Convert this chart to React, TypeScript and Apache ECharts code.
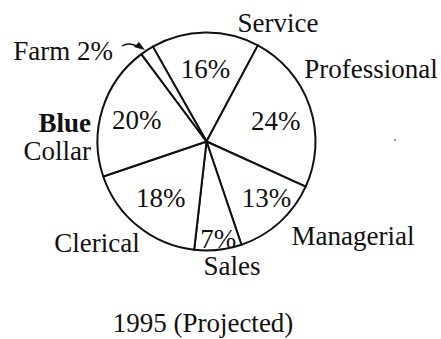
import React, { useEffect, useRef } from "react";
import * as echarts from "echarts";

const categories = ["Service", "Professional", "Managerial", "Sales", "Clerical", "Blue Collar", "Farm"];
const shares = [16, 24, 13, 7, 18, 20, 2];
const titleText = "1995 (Projected)";

const FONT = "Liberation Serif";
const FS = 27;

// placement of outer name labels (pixels)
const namePlacement: Record<string, { x: number; y: number; align: string; text: string; weight?: string }[]> = {
  Service: [{ x: 278, y: 23, align: "center", text: "Service" }],
  Professional: [{ x: 371, y: 69, align: "center", text: "Professional" }],
  Managerial: [{ x: 353, y: 236, align: "center", text: "Managerial" }],
  Sales: [{ x: 232, y: 266, align: "center", text: "Sales" }],
  Clerical: [{ x: 97, y: 243, align: "center", text: "Clerical" }],
  "Blue Collar": [
    { x: 91, y: 123, align: "right", text: "Blue", weight: "bold" },
    { x: 91, y: 151, align: "right", text: "Collar" },
  ],
  Farm: [{ x: 63, y: 51, align: "center", text: "Farm 2%" }],
};

// small label nudges for the percent labels
const pctOffset: Record<string, number[]> = {
  Professional: [0, 3],
  Managerial: [11, 2],
  Sales: [4, 25],
};

export default function App() {
  const ref = useRef<HTMLDivElement>(null);
  useEffect(() => {
    document.body.style.margin = "0";
    const chart = echarts.init(ref.current!, undefined, { renderer: "svg" });
    const center = [206.5, 141.5];
    const R = 109;
    const startAngle = 119.5;

    const graphics: any[] = [];
    categories.forEach((c) => {
      (namePlacement[c] || []).forEach((p) => {
        graphics.push({
          type: "text",
          x: p.x,
          y: p.y,
          style: {
            text: p.text,
            fill: "#111",
            fontFamily: FONT,
            fontSize: FS,
            fontWeight: p.weight || "normal",
            align: p.align,
            verticalAlign: "middle",
          },
        });
      });
    });
    graphics.push({
      type: "text",
      x: 203,
      y: 323,
      style: { text: titleText, fill: "#111", fontFamily: FONT, fontSize: FS, align: "center", verticalAlign: "middle" },
    });
    // Farm arrow
    graphics.push({
      type: "bezierCurve",
      shape: { x1: 122, y1: 46, x2: 140, y2: 48, cpx1: 128, cpy1: 42, cpx2: 134, cpy2: 44 },
      style: { stroke: "#111", lineWidth: 1.5, fill: "none" },
    });
    graphics.push({
      type: "polygon",
      shape: { points: [[145, 50], [134, 47], [139, 42]] },
      style: { fill: "#111" },
    });
    graphics.push({ type: "circle", shape: { cx: 395, cy: 140, r: 0.8 }, style: { fill: "#555" } });

    chart.setOption({
      animation: false,
      backgroundColor: "#fff",
      graphic: graphics,
      series: [
        {
          type: "pie",
          center,
          radius: [0, R],
          startAngle,
          clockwise: true,
          silent: true,
          label: { show: false },
          labelLine: { show: false },
          itemStyle: { color: "#fff", borderColor: "#111", borderWidth: 2 },
          data: categories.map((c, i) => ({ name: c, value: shares[i] })),
        },
        {
          type: "pie",
          center,
          radius: [31, R],
          startAngle,
          clockwise: true,
          silent: true,
          itemStyle: { color: "transparent", borderWidth: 0 },
          labelLine: { show: false },
          label: {
            show: true,
            position: "inside",
            fontFamily: FONT,
            fontSize: FS,
            color: "#111",
            formatter: (p: any) => (p.name === "Farm" ? "" : `${p.value}%`),
          },
          data: categories.map((c, i) => ({
            name: c,
            value: shares[i],
            label: pctOffset[c] ? { offset: pctOffset[c] } : undefined,
          })),
        },
      ],
    });
    return () => chart.dispose();
  }, []);
  return <div ref={ref} style={{ width: 441, height: 339 }} />;
}
